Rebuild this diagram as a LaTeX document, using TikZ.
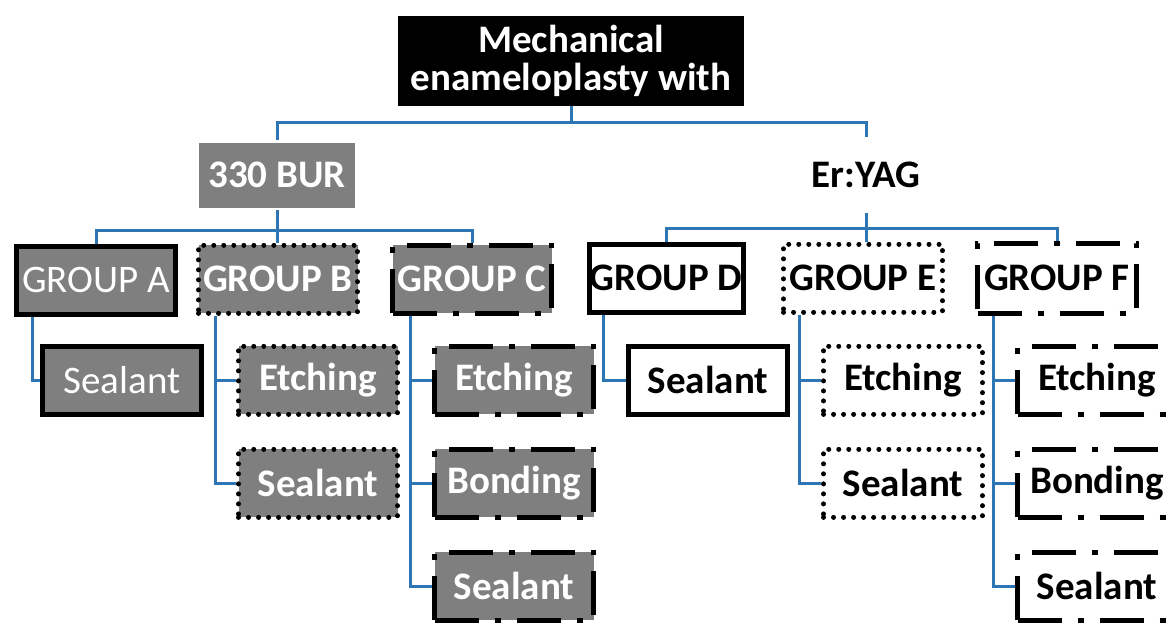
\documentclass[tikz,border=0pt]{standalone}
\usepackage{fontspec}
\setmainfont{Carlito}
\usetikzlibrary{positioning}
\definecolor{boxgray}{RGB}{127,127,127}
\definecolor{linkblue}{RGB}{46,117,182}

\begin{document}
\begin{tikzpicture}[x=0.5pt, y=-0.5pt,
  gbox/.style={draw=black, line width=2.5pt, minimum width=79.5pt, minimum height=34pt,
    inner sep=0pt, font=\fontsize{19.5}{19}\selectfont\bfseries},
  grayfill/.style={fill=boxgray, text=white},
  whitefill/.style={fill=white, text=black},
  thintext/.style={font=\fontsize{19.5}{19}\selectfont},
  dotline/.style={dash pattern=on 0.01pt off 5pt, line cap=round},
  dashdotline/.style={dash pattern=on 22pt off 8pt on 3pt off 8pt},
  link/.style={draw=linkblue, line width=1.5pt}
]
  \clip (0,0) rectangle (1170,622);

  % top level
  \node[fill=black, text=white, minimum width=173pt, minimum height=45pt, inner sep=0pt,
    align=center, font=\fontsize{19.5}{19}\selectfont\bfseries] (root) at (571,61)
    {Mechanical\\enameloplasty with};
  \node[gbox, grayfill, draw=none, minimum width=78pt, minimum height=32.5pt] (bur) at (277,175) {330 BUR};
  \node[minimum height=38pt, inner sep=0pt, font=\fontsize{19.5}{19}\selectfont\bfseries] (eryag) at (866,175) {Er:YAG};

  % groups
  \node[gbox, grayfill, thintext] (grpA) at (96,280) {GROUP A};
  \node[gbox, grayfill, dotline] (grpB) at (278,279) {GROUP B};
  \node[gbox, grayfill, dashdotline] (grpC) at (472,279) {GROUP C};
  \node[gbox, whitefill, minimum width=77pt] (grpD) at (666,278) {GROUP D};
  \node[gbox, whitefill, dotline] (grpE) at (863,278) {GROUP E};
  \node[gbox, whitefill, dashdotline, minimum height=35pt] (grpF) at (1057,278) {GROUP F};

  % treatments
  \node[gbox, grayfill, thintext] (sealA) at (122,380) {Sealant};
  \node[gbox, grayfill, dotline] (etchB) at (318,380) {Etching};
  \node[gbox, grayfill, dotline] (sealB) at (318,483) {Sealant};
  \node[gbox, grayfill, dashdotline] (etchC) at (514,380) {Etching};
  \node[gbox, grayfill, dashdotline] (bondC) at (514,483) {Bonding};
  \node[gbox, grayfill, dashdotline] (sealC) at (514,586) {Sealant};
  \node[gbox, whitefill] (sealD) at (708,380) {Sealant};
  \node[gbox, whitefill, dotline] (etchE) at (903,380) {Etching};
  \node[gbox, whitefill, dotline] (sealE) at (903,483) {Sealant};
  \node[gbox, whitefill, dashdotline] (etchF) at (1097,380) {Etching};
  \node[gbox, whitefill, dashdotline] (bondF) at (1097,483) {Bonding};
  \node[gbox, whitefill, dashdotline] (sealF) at (1097,586) {Sealant};

  % connectors
  \coordinate (topbus) at (571,122);
  \coordinate (burbus) at (277,230);
  \coordinate (erbus) at (866,228);
  \draw[link] (root.south) -- (topbus);
  \draw[link] (bur.north) |- (topbus) -| (eryag.north);
  \draw[link] (bur.south) -- (bur.south |- grpB.north);
  \draw[link] (grpA.north) |- (burbus) -| (grpC.north);
  \draw[link] (eryag.south) -- (eryag.south |- grpE.north);
  \draw[link] (grpD.north) |- (erbus) -| (grpF.north);

  \draw[link] ([xshift=9pt]grpA.south west) |- (sealA.west);
  \draw[link] ([xshift=9.5pt]grpB.south west) |- (sealB.west);
  \draw[link] ([xshift=9.5pt]grpB.south west |- etchB.west) -- (etchB.west);
  \draw[link] ([xshift=10pt]grpC.south west) |- (sealC.west);
  \draw[link] ([xshift=10pt]grpC.south west |- etchC.west) -- (etchC.west);
  \draw[link] ([xshift=10pt]grpC.south west |- bondC.west) -- (bondC.west);
  \draw[link] ([xshift=8.5pt]grpD.south west) |- (sealD.west);
  \draw[link] ([xshift=9pt]grpE.south west) |- (sealE.west);
  \draw[link] ([xshift=9pt]grpE.south west |- etchE.west) -- (etchE.west);
  \draw[link] ([xshift=9pt]grpF.south west) |- (sealF.west);
  \draw[link] ([xshift=9pt]grpF.south west |- etchF.west) -- (etchF.west);
  \draw[link] ([xshift=9pt]grpF.south west |- bondF.west) -- (bondF.west);
\end{tikzpicture}
\end{document}
